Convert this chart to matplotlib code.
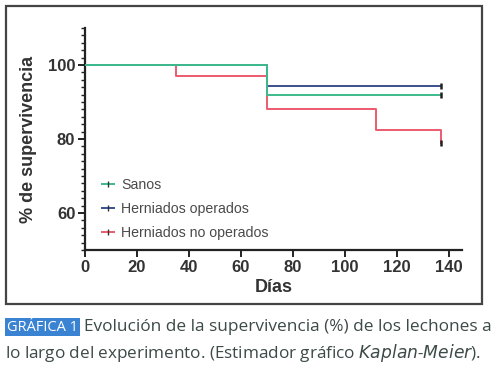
import matplotlib
matplotlib.use("Agg")
import matplotlib.pyplot as plt
from matplotlib.patches import Rectangle
from matplotlib.lines import Line2D

# Data (Kaplan-Meier steps)
days_sanos = [0, 70, 137]
surv_sanos = [100, 92.0, 92.0]
days_op = [0, 70, 137]
surv_op = [100, 94.3, 94.3]
days_noop = [0, 35, 70, 112, 137]
surv_noop = [100, 97.0, 88.2, 82.4, 79.0]

labels = ["Sanos", "Herniados operados", "Herniados no operados"]
colors = ["#3dba8c", "#3b4f90", "#ec5a6e"]
xticks = [0, 20, 40, 60, 80, 100, 120, 140]
yticks = [60, 80, 100]

fig = plt.figure(figsize=(5, 3.72), dpi=100)
fig.patch.set_facecolor("white")

# outer frame
fig.patches.append(Rectangle((6/500, 1-304/372), 476/500, 298/372, transform=fig.transFigure,
                             fill=False, edgecolor="#444444", linewidth=1.6))

ax = fig.add_axes([0.17, 0.328, 0.754, 0.597])
series = [(days_sanos, surv_sanos), (days_op, surv_op), (days_noop, surv_noop)]
zorders = [4, 3, 2]
for (d, s), c, z in zip(series, colors, zorders):
    ax.step(d, s, where="post", color=c, linewidth=1.4, zorder=z)
    ax.plot([d[-1]], [s[-1]], marker="|", color="#222222", markersize=5, markeredgewidth=1.8, zorder=5)

ax.set_xlim(0, 145)
ax.set_ylim(50, 110)
ax.set_xticks(xticks)
ax.set_yticks(yticks)
ax.set_yticks(range(50, 111, 2), minor=True)
for sp in ["top", "right"]:
    ax.spines[sp].set_visible(False)
for sp in ["left", "bottom"]:
    ax.spines[sp].set_linewidth(1.6)
    ax.spines[sp].set_color("#222222")
ax.spines["left"].set_bounds(50, 110)
ax.tick_params(axis="both", which="major", length=5, width=1.4, colors="#222222",
               labelsize=12, pad=2)
ax.tick_params(axis="y", which="minor", length=3, width=1.0, colors="#222222")
for t in ax.get_xticklabels() + ax.get_yticklabels():
    t.set_fontweight("bold")
    t.set_fontfamily("Liberation Sans")
    t.set_color("#333333")
ax.set_xlabel("Días", fontsize=13, fontweight="bold", family="Liberation Sans", color="#333333", labelpad=3)
ax.set_ylabel("% de supervivencia", fontsize=13, fontweight="bold", family="Liberation Sans",
              color="#333333", labelpad=8)

handles = [Line2D([0], [0], color=c, linewidth=1.4, marker="|", markersize=5,
                  markeredgecolor="#333333", markeredgewidth=1.0) for c in colors]
leg = ax.legend(handles, labels, loc="lower left", bbox_to_anchor=(0.01, -0.012), frameon=False,
                handlelength=0.9, handletextpad=0.5, labelspacing=0.7,
                prop={"family": "Liberation Sans", "size": 10.2})
for t in leg.get_texts():
    t.set_color("#4a4a4a")

# caption
cap_color = "#3c4a48"
fig.patches.append(Rectangle((5/500, 1-336/372), 75/500, 18/372, transform=fig.transFigure,
                             facecolor="#3a82d2", edgecolor="none"))
fig.text(42.5/500, 1-327.5/372, "GRÁFICA 1", fontsize=10.5, color="white", family="Open Sans",
         va="center", ha="center")
fig.text(84/500, 1-327/372, "Evolución de la supervivencia (%) de los lechones a",
         fontsize=12.4, color=cap_color, family="Open Sans", va="center", ha="left")
fig.text(5/500, 1-353/372, "lo largo del experimento. (Estimador gráfico $\\it{Kaplan}$-$\\it{Meier}$).",
         fontsize=12.3, color=cap_color, family="Open Sans", va="center", ha="left")

fig.savefig("out.png", dpi=100)
